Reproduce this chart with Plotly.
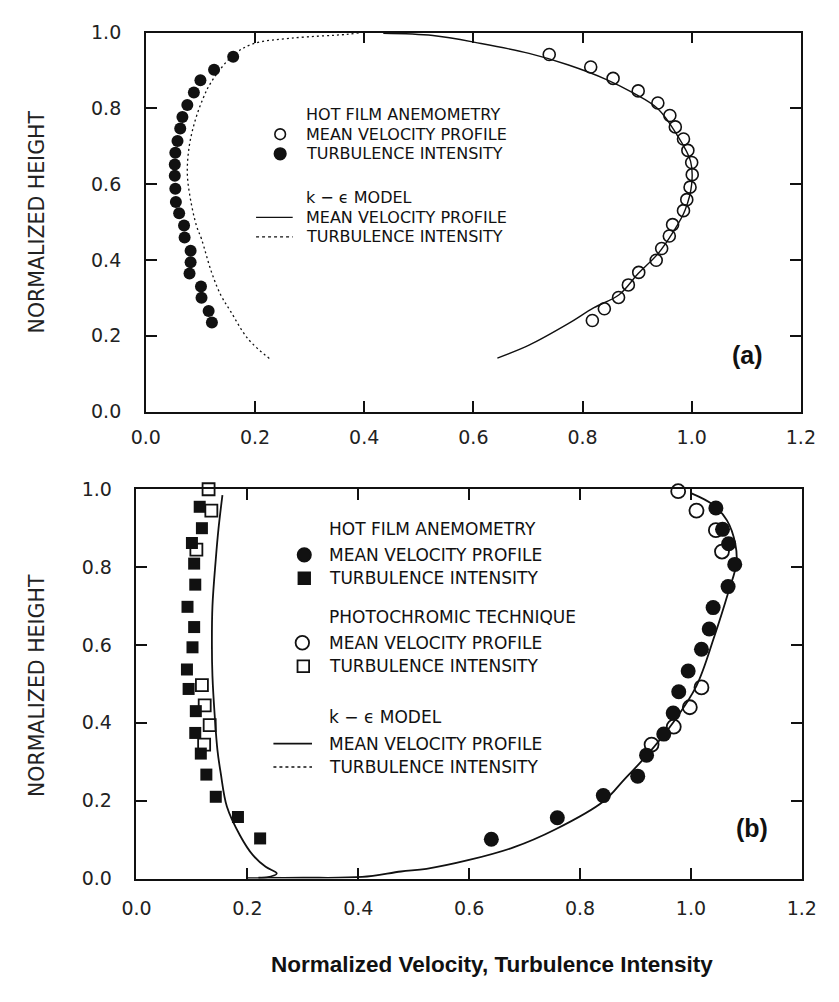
import plotly.graph_objects as go

W, H = 839, 1002

# ---------------- Panel (a) data ----------------
a_hf_vel_x = [0.739, 0.815, 0.856, 0.902, 0.938, 0.960, 0.970, 0.985, 0.993, 1.000, 1.001,
              0.997, 0.991, 0.985, 0.965, 0.959, 0.945, 0.935, 0.903, 0.884, 0.866, 0.840, 0.818]
a_hf_vel_y = [0.942, 0.909, 0.879, 0.846, 0.814, 0.781, 0.751, 0.719, 0.689, 0.657, 0.625,
              0.592, 0.559, 0.530, 0.493, 0.463, 0.430, 0.399, 0.367, 0.334, 0.301, 0.271, 0.240]

a_hf_ti_x = [0.160, 0.125, 0.100, 0.088, 0.076, 0.067, 0.063, 0.058, 0.054, 0.053, 0.053, 0.054,
             0.055, 0.061, 0.070, 0.071, 0.082, 0.082, 0.080, 0.101, 0.102, 0.115, 0.121]
a_hf_ti_y = [0.936, 0.902, 0.874, 0.842, 0.809, 0.777, 0.747, 0.714, 0.683, 0.652, 0.622, 0.588,
             0.553, 0.523, 0.491, 0.459, 0.424, 0.394, 0.364, 0.330, 0.300, 0.265, 0.235]

a_model_vel_x = [0.644, 0.702, 0.773, 0.821, 0.867, 0.902, 0.938, 0.967, 0.988, 1.000, 0.998,
                 0.973, 0.938, 0.891, 0.844, 0.773, 0.702, 0.614, 0.526, 0.435]
a_model_vel_y = [0.141, 0.175, 0.231, 0.274, 0.308, 0.364, 0.416, 0.476, 0.532, 0.600, 0.660,
                 0.730, 0.799, 0.842, 0.876, 0.915, 0.945, 0.971, 0.992, 0.998]

a_model_ti_x = [0.390, 0.367, 0.266, 0.196, 0.160, 0.120, 0.102, 0.088, 0.079, 0.076, 0.082,
                0.093, 0.102, 0.120, 0.137, 0.155, 0.187, 0.228]
a_model_ti_y = [0.999, 0.995, 0.985, 0.970, 0.940, 0.870, 0.816, 0.756, 0.695, 0.627, 0.558,
                0.489, 0.455, 0.369, 0.308, 0.265, 0.192, 0.138]

# ---------------- Panel (b) data ----------------
b_hf_vel_x = [1.045, 1.057, 1.068, 1.079, 1.067, 1.040, 1.033, 1.019, 0.995, 0.978, 0.968,
              0.951, 0.920, 0.904, 0.842, 0.759, 0.640]
b_hf_vel_y = [0.952, 0.897, 0.860, 0.807, 0.750, 0.696, 0.641, 0.589, 0.533, 0.480, 0.425,
              0.371, 0.317, 0.263, 0.213, 0.156, 0.101]

b_hf_ti_x = [0.114, 0.118, 0.100, 0.104, 0.106, 0.092, 0.104, 0.101, 0.091, 0.094, 0.107,
             0.106, 0.116, 0.126, 0.143, 0.183, 0.223]
b_hf_ti_y = [0.955, 0.900, 0.862, 0.809, 0.755, 0.698, 0.646, 0.594, 0.537, 0.487, 0.430,
             0.374, 0.321, 0.267, 0.210, 0.158, 0.103]

b_pc_vel_x = [0.977, 1.010, 1.045, 1.056, 1.019, 0.998, 0.969, 0.929]
b_pc_vel_y = [0.995, 0.945, 0.895, 0.840, 0.491, 0.440, 0.390, 0.344]

b_pc_ti_x = [0.130, 0.135, 0.108, 0.118, 0.123, 0.132, 0.122]
b_pc_ti_y = [1.000, 0.945, 0.845, 0.497, 0.445, 0.394, 0.344]

b_model_vel_x = [0.220, 0.300, 0.407, 0.477, 0.523, 0.598, 0.680, 0.755, 0.842, 0.880, 0.917,
                 0.969, 1.010, 1.042, 1.068, 1.082, 1.080, 1.065, 1.040, 1.000]
b_model_vel_y = [0.002, 0.002, 0.004, 0.018, 0.025, 0.047, 0.080, 0.126, 0.198, 0.255, 0.311,
                 0.403, 0.495, 0.621, 0.738, 0.809, 0.860, 0.920, 0.960, 0.990]

b_model_ti_x = [0.155, 0.148, 0.143, 0.137, 0.136, 0.137, 0.141, 0.146, 0.152, 0.163, 0.187,
                0.210, 0.233, 0.253, 0.235, 0.200]
b_model_ti_y = [0.985, 0.900, 0.820, 0.700, 0.600, 0.520, 0.420, 0.330, 0.270, 0.185, 0.110,
                0.060, 0.030, 0.013, 0.003, 0.001]

tick_vals_x = [0.0, 0.2, 0.4, 0.6, 0.8, 1.0, 1.2]
tick_text_x = ["0.0", "0.2", "0.4", "0.6", "0.8", "1.0", "1.2"]
tick_vals_y = [0.0, 0.2, 0.4, 0.6, 0.8, 1.0]
tick_text_y = ["0.0", "0.2", "0.4", "0.6", "0.8", "1.0"]

legend_a = ["HOT FILM ANEMOMETRY", "MEAN VELOCITY PROFILE", "TURBULENCE INTENSITY",
            "k − ϵ MODEL", "MEAN VELOCITY PROFILE", "TURBULENCE INTENSITY"]
legend_b = ["HOT FILM ANEMOMETRY", "MEAN VELOCITY PROFILE", "TURBULENCE INTENSITY",
            "PHOTOCHROMIC TECHNIQUE", "MEAN VELOCITY PROFILE", "TURBULENCE INTENSITY",
            "k − ϵ MODEL", "MEAN VELOCITY PROFILE", "TURBULENCE INTENSITY"]

# ---------------- figure ----------------
fig = go.Figure()
BLK = "#111111"

# panel a
fig.add_trace(go.Scatter(x=a_model_ti_x, y=a_model_ti_y, mode="lines", xaxis="x", yaxis="y",
                         line=dict(color=BLK, width=1.3, dash="2px,3px", shape="spline"), showlegend=False))
fig.add_trace(go.Scatter(x=a_model_vel_x, y=a_model_vel_y, mode="lines", xaxis="x", yaxis="y",
                         line=dict(color=BLK, width=1.4, shape="spline"), showlegend=False))
fig.add_trace(go.Scatter(x=a_hf_vel_x, y=a_hf_vel_y, mode="markers", xaxis="x", yaxis="y", cliponaxis=False,
                         marker=dict(symbol="circle-open", size=12, color=BLK, line=dict(width=1.6)),
                         showlegend=False))
fig.add_trace(go.Scatter(x=a_hf_ti_x, y=a_hf_ti_y, mode="markers", xaxis="x", yaxis="y", cliponaxis=False,
                         marker=dict(symbol="circle", size=12, color=BLK), showlegend=False))

# panel b
fig.add_trace(go.Scatter(x=b_model_ti_x, y=b_model_ti_y, mode="lines", xaxis="x2", yaxis="y2",
                         line=dict(color=BLK, width=1.8, shape="spline"), showlegend=False))
fig.add_trace(go.Scatter(x=b_model_vel_x, y=b_model_vel_y, mode="lines", xaxis="x2", yaxis="y2",
                         line=dict(color=BLK, width=1.8, shape="spline"), showlegend=False))
fig.add_trace(go.Scatter(x=b_pc_vel_x, y=b_pc_vel_y, mode="markers", xaxis="x2", yaxis="y2", cliponaxis=False,
                         marker=dict(symbol="circle-open", size=14, color=BLK, line=dict(width=1.8)),
                         showlegend=False))
fig.add_trace(go.Scatter(x=b_pc_ti_x, y=b_pc_ti_y, mode="markers", xaxis="x2", yaxis="y2", cliponaxis=False,
                         marker=dict(symbol="square-open", size=12, color=BLK, line=dict(width=1.8)),
                         showlegend=False))
fig.add_trace(go.Scatter(x=b_hf_vel_x, y=b_hf_vel_y, mode="markers", xaxis="x2", yaxis="y2", cliponaxis=False,
                         marker=dict(symbol="circle", size=15, color=BLK), showlegend=False))
fig.add_trace(go.Scatter(x=b_hf_ti_x, y=b_hf_ti_y, mode="markers", xaxis="x2", yaxis="y2", cliponaxis=False,
                         marker=dict(symbol="square", size=12, color=BLK), showlegend=False))

TICKFONT = dict(family="DejaVu Sans", size=19, color="#222222")
def ax(domain, anchor, vals, text, rng, standoff):
    return dict(domain=domain, anchor=anchor, range=rng, tickvals=vals, ticktext=text,
                ticks="inside", ticklen=11, tickwidth=1.5, tickcolor=BLK,
                showline=True, linecolor=BLK, linewidth=1.6, mirror="ticks",
                showgrid=False, zeroline=False, tickfont=TICKFONT, ticklabelstandoff=standoff)

def px(x):
    return x / W
def py(y):
    return 1 - y / H

fig.update_layout(
    width=W, height=H, margin=dict(l=0, r=0, t=0, b=0),
    paper_bgcolor="white", plot_bgcolor="white", showlegend=False,
    xaxis=ax([px(135.7), px(815)], "y", tick_vals_x, tick_text_x, [0, 1.2], 8),
    yaxis=ax([py(409.5), py(22)], "x", tick_vals_y, tick_text_y, [0, 1.0], 19),
    xaxis2=ax([px(126), px(816)], "y2", tick_vals_x, tick_text_x, [0, 1.2], 12),
    yaxis2=ax([py(887), py(489)], "x2", tick_vals_y, tick_text_y, [0, 1.0], 19),
)

ann = []
shapes = []
LFA = dict(family="DejaVu Sans", size=16, color="#111111")
LFB = dict(family="DejaVu Sans", size=17, color="#111111")

def text(x, y, s, font, anchor="left", angle=0):
    ann.append(dict(x=px(x), y=py(y), xref="paper", yref="paper", text=s, showarrow=False,
                    xanchor=anchor, yanchor="middle", font=font, textangle=angle))

def circ(cx, cy, d, filled, lw=1.6):
    r = d / 2
    shapes.append(dict(type="circle", xref="paper", yref="paper",
                       x0=px(cx - r), x1=px(cx + r), y0=py(cy + r), y1=py(cy - r),
                       line=dict(color=BLK, width=lw), fillcolor=BLK if filled else "white"))

def sq(cx, cy, d, filled, lw=1.8):
    r = d / 2
    shapes.append(dict(type="rect", xref="paper", yref="paper",
                       x0=px(cx - r), x1=px(cx + r), y0=py(cy + r), y1=py(cy - r),
                       line=dict(color=BLK, width=lw), fillcolor=BLK if filled else "white"))

def seg(x0, x1, y, dash, lw):
    shapes.append(dict(type="line", xref="paper", yref="paper", x0=px(x0), x1=px(x1), y0=py(y), y1=py(y),
                       line=dict(color=BLK, width=lw, dash=dash)))

# legend panel a
ys_a = [106, 126, 146, 191, 211, 231]
for s, yy in zip(legend_a, ys_a):
    text(300, yy, s, LFA)
circ(275, 126, 11, False)
circ(275, 146, 12, True)
seg(250, 288, 211, "solid", 1.4)
seg(250, 288, 231, "3px,3px", 1.3)

# legend panel b
ys_b = [530, 556, 580, 620, 646, 670, 722, 749, 773]
for s, yy in zip(legend_b, ys_b):
    text(324, yy, s, LFB)
circ(300, 556, 14, True)
sq(300, 580, 12, True)
circ(298, 646, 14, False, 1.8)
sq(299, 670, 12, False)
seg(268, 308, 749, "solid", 1.8)
seg(268, 308, 773, "3px,3px", 1.6)

# panel labels
PL = dict(family="Liberation Sans", size=25, color="#111111", weight="bold")
text(760, 352, "(a)", PL, "center")
text(764, 835, "(b)", PL, "center")

# axis titles
YT = dict(family="DejaVu Sans", size=20.5, color="#222222")
text(23, 216, "NORMALIZED HEIGHT", YT, "center", -90)
text(23, 690, "NORMALIZED HEIGHT", YT, "center", -90)
XT = dict(family="Liberation Sans", size=22.5, color="#111111", weight="bold")
text(495, 975, "Normalized Velocity, Turbulence Intensity", XT, "center")

fig.update_layout(annotations=ann, shapes=shapes)
fig.write_html("out.html")
